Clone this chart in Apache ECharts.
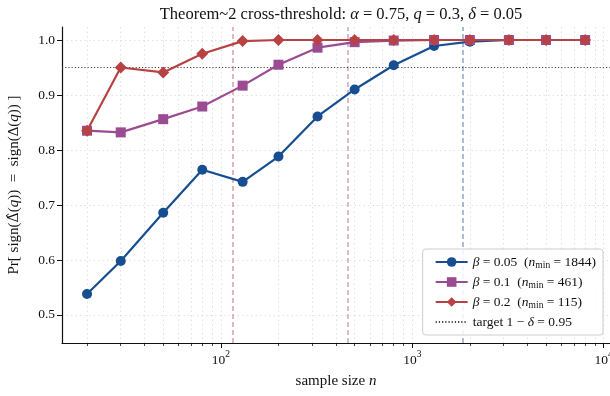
<!DOCTYPE html>
<html>
<head>
<meta charset="utf-8">
<script src="https://cdn.jsdelivr.net/npm/echarts@6/dist/echarts.min.js"></script>
<style>
  html, body { margin: 0; padding: 0; background: #fff; }
  #chart { width: 610px; height: 396px; }
</style>
</head>
<body>
<div id="chart"></div>
<script>
// sample sizes
const sampleSizes = [20, 30, 50, 80, 130, 200, 320, 500, 800, 1300, 2000, 3200, 5000, 8000];

// Pr[sign match] for each beta
const accBeta005 = [0.538, 0.598, 0.686, 0.764, 0.742, 0.788, 0.861, 0.910, 0.954, 0.989, 0.997, 1.0, 1.0, 1.0];
const accBeta01 = [0.835, 0.832, 0.856, 0.879, 0.917, 0.955, 0.986, 0.996, 0.999, 1.0, 1.0, 1.0, 1.0, 1.0];
const accBeta02 = [0.835, 0.950, 0.941, 0.975, 0.998, 1.0, 1.0, 1.0, 1.0, 1.0, 1.0, 1.0, 1.0, 1.0];

const betas = ['0.05', '0.1', '0.2'];
const nMins = [1844, 461, 115];
const target = 0.95;

const xMajorTicks = [100, 1000, 10000];
const xMinorTicks = [20, 30, 40, 50, 60, 70, 80, 90, 200, 300, 400, 500, 600, 700, 800, 900,
  2000, 3000, 4000, 5000, 6000, 7000, 8000, 9000];
const yTicks = [0.5, 0.6, 0.7, 0.8, 0.9, 1.0];

const xMin = 14.8, xMax = 10790;
const colors = ['#174e92', '#9b4b92', '#b84243'];
const symbols = ['circle', 'rect', 'diamond'];
const symbolSizes = [10, 10, 12];
const FONT = '"Liberation Serif", "DejaVu Serif", serif';

const myChart = echarts.init(document.getElementById('chart'));

const toPairs = (ys) => sampleSizes.map((n, i) => [n, ys[i]]);
const seriesData = [accBeta005, accBeta01, accBeta02];

const names = betas.map((b, i) => `b${i}`);
const legendText = {};
betas.forEach((b, i) => {
  legendText[names[i]] = `{i|β} = ${b}  ({i|n}{sub|min} = ${nMins[i]})`;
});
legendText['target'] = 'target 1 − {i|δ} = 0.95';

const italic = (size) => ({ fontFamily: FONT, fontStyle: 'italic', fontSize: size, color: '#111' });
const gridLine = { show: true, lineStyle: { color: '#d9d9d9', type: [1.5, 3], width: 0.8 } };

const series = seriesData.map((ys, i) => ({
  name: names[i],
  type: 'line',
  data: toPairs(ys),
  symbol: symbols[i],
  symbolSize: symbolSizes[i],
  color: colors[i],
  lineStyle: { width: 2.2, color: colors[i] },
  itemStyle: { color: colors[i] },
  z: 3 + i,
  markLine: {
    silent: true,
    symbol: 'none',
    label: { show: false },
    lineStyle: { color: colors[i], type: [5, 3], width: 1.5, opacity: 0.5 },
    z: 1,
    data: [{ xAxis: nMins[i] }]
  }
}));

series.push({
  name: 'target',
  type: 'line',
  data: [[xMin, target], [xMax, target]],
  symbol: 'none',
  color: '#444',
  lineStyle: { color: '#444', width: 1.2, type: [1.2, 2] },
  z: 2
});

myChart.setOption({
  animation: false,
  textStyle: { fontFamily: FONT },
  title: {
    text: 'Theorem~2 cross-threshold: {i|α} = 0.75, {i|q} = 0.3, {i|δ} = 0.05',
    left: 336,
    textAlign: 'center',
    top: 1,
    textStyle: {
      fontFamily: FONT, fontSize: 16.5, fontWeight: 'normal', color: '#111',
      rich: { i: italic(16.5) }
    }
  },
  grid: { left: 62, right: 0, top: 27, bottom: 53, containLabel: false, outerBoundsMode: 'none' },
  legend: {
    data: names.map(n => ({ name: n })).concat([{ name: 'target', itemStyle: { opacity: 0 } }]),
    orient: 'vertical',
    right: 7,
    bottom: 61,
    itemWidth: 32,
    itemHeight: 12,
    itemGap: 5,
    padding: [6, 7, 6, 12],
    backgroundColor: 'rgba(255,255,255,0.85)',
    borderColor: '#cccccc',
    borderWidth: 1,
    borderRadius: 3,
    formatter: (name) => legendText[name],
    textStyle: {
      fontFamily: FONT, fontSize: 13.5, color: '#111',
      rich: {
        i: italic(13.5),
        sub: { fontFamily: FONT, fontSize: 9.5, color: '#111', padding: [6, 0, 0, 0] }
      }
    }
  },
  xAxis: [
    {
      type: 'log',
      logBase: 10,
      min: xMin,
      max: xMax,
      name: 'sample size {i|n}',
      nameLocation: 'middle',
      nameGap: 31,
      nameTextStyle: {
        fontFamily: FONT, fontSize: 15, color: '#111',
        rich: { i: italic(15) }
      },
      axisLine: { show: true, lineStyle: { color: '#111', width: 1.2 } },
      axisTick: { show: true, length: 5, lineStyle: { color: '#111', width: 1 }, customValues: xMajorTicks },
      axisLabel: {
        customValues: xMajorTicks,
        margin: 6,
        formatter: (v) => `{b|10}{s|${Math.round(Math.log10(v))}}`,
        rich: {
          b: { fontFamily: FONT, fontSize: 13.5, color: '#111', lineHeight: 18, verticalAlign: 'bottom' },
          s: { fontFamily: FONT, fontSize: 9.5, color: '#111', lineHeight: 18, verticalAlign: 'top' }
        }
      },
      splitLine: gridLine,
      minorTick: { show: false }
    },
    {
      type: 'log',
      logBase: 10,
      min: xMin,
      max: xMax,
      position: 'bottom',
      axisLine: { show: false },
      axisTick: { show: true, length: 3, lineStyle: { color: '#111', width: 0.8 }, customValues: xMinorTicks },
      axisLabel: { show: false },
      splitLine: gridLine
    }
  ],
  yAxis: {
    type: 'value',
    min: 0.449,
    max: 1.0236,
    name: 'Pr[ sign({h|Δ̂}({i|q}))  =  sign(Δ({i|q})) ]',
    nameLocation: 'middle',
    nameGap: 40,
    nameTextStyle: {
      fontFamily: FONT, fontSize: 15, color: '#111',
      rich: {
        i: italic(15),
        h: { fontFamily: '"DejaVu Serif", serif', fontSize: 14, color: '#111' }
      }
    },
    axisLine: { show: true, lineStyle: { color: '#111', width: 1.2 } },
    axisTick: { show: true, length: 5, lineStyle: { color: '#111', width: 1 }, customValues: yTicks },
    axisLabel: {
      customValues: yTicks,
      margin: 7,
      fontFamily: FONT, fontSize: 13.5, color: '#111',
      formatter: (v) => v.toFixed(1)
    },
    splitLine: gridLine
  },
  series: series
});
</script>
</body>
</html>
